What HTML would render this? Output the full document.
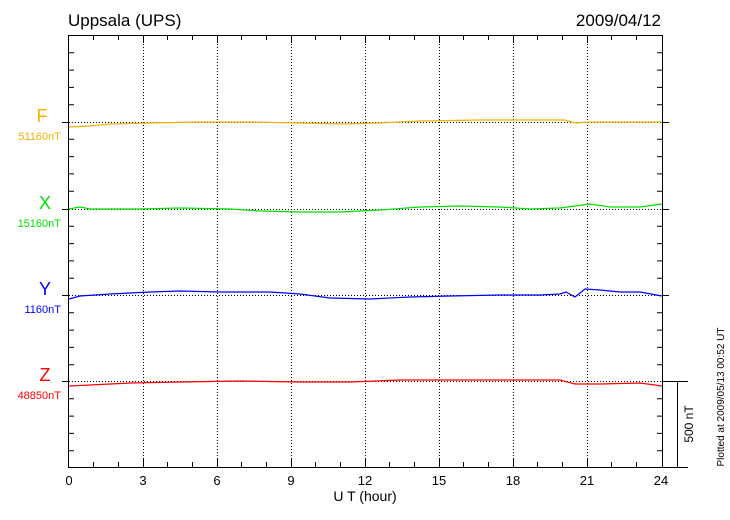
<!DOCTYPE html><html><head><style>body{margin:0;background:#fff}svg{display:block;font-family:"Liberation Sans",sans-serif}</style></head><body>
<svg width="730" height="520" viewBox="0 0 730 520" xmlns="http://www.w3.org/2000/svg">
<rect width="730" height="520" fill="#fff"/>
<g stroke="#000" stroke-dasharray="1,2" stroke-width="1">
<line x1="143.5" y1="35" x2="143.5" y2="467"/><line x1="217.5" y1="35" x2="217.5" y2="467"/><line x1="291.5" y1="35" x2="291.5" y2="467"/><line x1="365.5" y1="35" x2="365.5" y2="467"/><line x1="439.5" y1="35" x2="439.5" y2="467"/><line x1="513.5" y1="35" x2="513.5" y2="467"/><line x1="587.5" y1="35" x2="587.5" y2="467"/>
<line x1="69" y1="122.5" x2="662" y2="122.5"/><line x1="69" y1="209.5" x2="662" y2="209.5"/><line x1="69" y1="295.5" x2="662" y2="295.5"/><line x1="69" y1="381.5" x2="662" y2="381.5"/>
</g>
<g fill="none" stroke-width="1.2">
<polyline stroke="#f5b000" points="69,127 90,126 110,124 150,123 200,122 250,122 300,123 340,124 380,123 420,121 480,120 540,120 565,120 575,123 590,122 620,122 662,122"/>
<polyline stroke="#00e000" points="69,209 80,207 90,209 140,209 180,208 230,209 260,211 300,212 340,212 380,210 420,207 460,206 500,207 530,209 560,208 575,206 590,204 610,207 640,207 662,204"/>
<polyline stroke="#0000ff" points="69,299 80,296 110,294 150,292 180,291 220,292 270,292 300,294 330,298 370,299 410,297 450,296 500,295 540,295 560,294 566,292 575,297 585,289 600,290 620,292 640,292 662,296"/>
<polyline stroke="#ff0000" points="69,386 90,385 130,383 180,382 240,381 300,382 350,382 400,380 450,380 500,380 560,380 575,384 600,384 640,383 662,386"/>
</g>
<g stroke="#000" fill="none" stroke-width="1">
<rect x="68.5" y="35.5" width="594" height="432"/>
<path d="M69,52.8h5M69,70.1h5M69,87.4h5M69,104.7h5M69,139.3h5M69,156.6h5M69,173.9h5M69,191.2h5M69,226.3h5M69,243.6h5M69,260.9h5M69,278.2h5M69,312.8h5M69,330.1h5M69,347.4h5M69,364.7h5M69,398.8h5M69,416.1h5M69,433.4h5M69,450.7h5"/>
<path d="M662,52.8h-5M662,70.1h-5M662,87.4h-5M662,104.7h-5M662,139.3h-5M662,156.6h-5M662,173.9h-5M662,191.2h-5M662,226.3h-5M662,243.6h-5M662,260.9h-5M662,278.2h-5M662,312.8h-5M662,330.1h-5M662,347.4h-5M662,364.7h-5M662,398.8h-5M662,416.1h-5M662,433.4h-5M662,450.7h-5"/>
<path d="M62,122.5h7M62,209.5h7M62,295.5h7M62,381.5h7M662,122.5h7M662,209.5h7M662,295.5h7"/>
<path d="M93.5,35v5M118.5,35v5M167.5,35v5M192.5,35v5M241.5,35v5M266.5,35v5M315.5,35v5M340.5,35v5M389.5,35v5M414.5,35v5M463.5,35v5M488.5,35v5M537.5,35v5M562.5,35v5M611.5,35v5M636.5,35v5"/>
<path d="M93.5,467v-5M118.5,467v-5M167.5,467v-5M192.5,467v-5M241.5,467v-5M266.5,467v-5M315.5,467v-5M340.5,467v-5M389.5,467v-5M414.5,467v-5M463.5,467v-5M488.5,467v-5M537.5,467v-5M562.5,467v-5M611.5,467v-5M636.5,467v-5"/>
<path d="M143.5,467v-8M217.5,467v-8M291.5,467v-8M365.5,467v-8M439.5,467v-8M513.5,467v-8M587.5,467v-8M143.5,35v8M217.5,35v8M291.5,35v8M365.5,35v8M439.5,35v8M513.5,35v8M587.5,35v8"/>
<path d="M662,381.5h26M662,467.5h26M677.5,381v86"/>
</g>
<text x="68" y="26" font-size="17">Uppsala (UPS)</text>
<text x="661" y="26" font-size="17" text-anchor="end">2009/04/12</text>
<g font-size="18" text-anchor="middle"><text x="42" y="122" fill="#f5b000">F</text><text x="45" y="209" fill="#00e000">X</text><text x="45" y="295" fill="#0000ff">Y</text><text x="45" y="381" fill="#ff0000">Z</text></g>
<g font-size="11" text-anchor="end"><text x="61" y="140" fill="#f5b000">51160nT</text><text x="61" y="227" fill="#00e000">15160nT</text><text x="61" y="313" fill="#0000ff">1160nT</text><text x="61" y="399" fill="#ff0000">48850nT</text></g>
<g font-size="13" text-anchor="middle"><text x="69" y="485">0</text><text x="143" y="485">3</text><text x="217" y="485">6</text><text x="291" y="485">9</text><text x="365" y="485">12</text><text x="439" y="485">15</text><text x="513" y="485">18</text><text x="587" y="485">21</text><text x="661" y="485">24</text></g>
<text x="365" y="501" font-size="14" text-anchor="middle">U T (hour)</text>
<text transform="translate(693,424) rotate(-90)" font-size="12" text-anchor="middle">500 nT</text>
<text transform="translate(724,397) rotate(-90)" font-size="10" text-anchor="middle">Plotted at 2009/05/13 00:52 UT</text>
</svg></body></html>
